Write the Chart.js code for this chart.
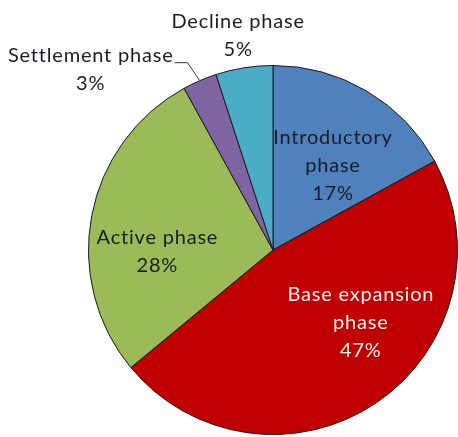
<!DOCTYPE html>
<html>
<head>
<meta charset="utf-8">
<script src="https://cdn.jsdelivr.net/npm/chart.js@4.4.1/dist/chart.umd.min.js"></script>
<style>
  html, body { margin: 0; padding: 0; background: #fff; }
  #wrap { width: 458px; height: 437px; }
</style>
</head>
<body>
<div id="wrap"><canvas id="phase-chart" width="458" height="437"></canvas></div>
<script>
// slice names, split into text lines for the labels
const phaseNames = ['Introductory phase', 'Base expansion phase', 'Active phase', 'Settlement phase', 'Decline phase'];
const labelLines = [['Introductory', 'phase'], ['Base expansion', 'phase'], ['Active phase'], ['Settlement phase'], ['Decline phase']];
const phaseShares = [17, 47, 28, 3, 5]; // percent

const sliceColors = ['#4F81BD', '#C00000', '#9BBB59', '#8064A2', '#4BACC6'];
const textColors = ['#1c1c28', '#fbeeee', '#1c1c28', '#1c1c28', '#1c1c28'];
// where each label sits: fraction of radius along the mid angle, then a nudge
const labelRadius = [0.5, 0.5, 0.5, 1, 1];
const labelNudge = [[13, -5], [36, -4], [-25, 19], [-109, -11], [-6, -32]];
const hasLeader = [false, false, false, true, false];

const FONT = '20px Lato, "Open Sans", sans-serif';
const LINE_H = 28;

// draws the data labels (and the one leader line) from the arc elements
const sliceLabels = {
    id: 'sliceLabels',
    afterDatasetsDraw(chart) {
        const ctx = chart.ctx;
        const arcs = chart.getDatasetMeta(0).data;
        ctx.save();
        ctx.font = FONT;
        ctx.letterSpacing = '0.8px';
        ctx.textAlign = 'center';
        ctx.textBaseline = 'middle';
        arcs.forEach((arc, i) => {
            const p = arc.getProps(['x', 'y', 'startAngle', 'endAngle', 'outerRadius'], true);
            const mid = (p.startAngle + p.endAngle) / 2;
            const r = p.outerRadius * labelRadius[i];
            const ax = p.x + Math.cos(mid) * r;
            const ay = p.y + Math.sin(mid) * r;
            const cx = ax + labelNudge[i][0];
            const cy = ay + labelNudge[i][1];
            const lines = labelLines[i].concat([phaseShares[i] + '%']);
            const top = cy - (lines.length - 1) * LINE_H / 2;

            if (hasLeader[i]) { // elbow line from the slice edge to the end of the first text line
                const w = ctx.measureText(lines[0]).width;
                const ex = cx + w / 2 + 1;
                const ey = top + 7;
                ctx.strokeStyle = '#333';
                ctx.lineWidth = 1;
                ctx.beginPath();
                ctx.moveTo(ax, ay);
                ctx.lineTo(ex + 13, ey);
                ctx.lineTo(ex, ey);
                ctx.stroke();
            }

            ctx.fillStyle = textColors[i];
            lines.forEach((t, k) => ctx.fillText(t, cx, top + k * LINE_H));
        });
        ctx.restore();
    }
};

new Chart(document.getElementById('phase-chart'), {
    type: 'pie',
    data: {
        labels: phaseNames,
        datasets: [{
            data: phaseShares,
            backgroundColor: sliceColors,
            borderColor: '#1a1a1a',
            borderWidth: 1
        }]
    },
    options: {
        responsive: false,
        animation: false,
        layout: { padding: { left: 88, right: 0, top: 65, bottom: 2 } },
        plugins: {
            legend: { display: false },
            tooltip: { enabled: false }
        }
    },
    plugins: [sliceLabels]
});
</script>
</body>
</html>
